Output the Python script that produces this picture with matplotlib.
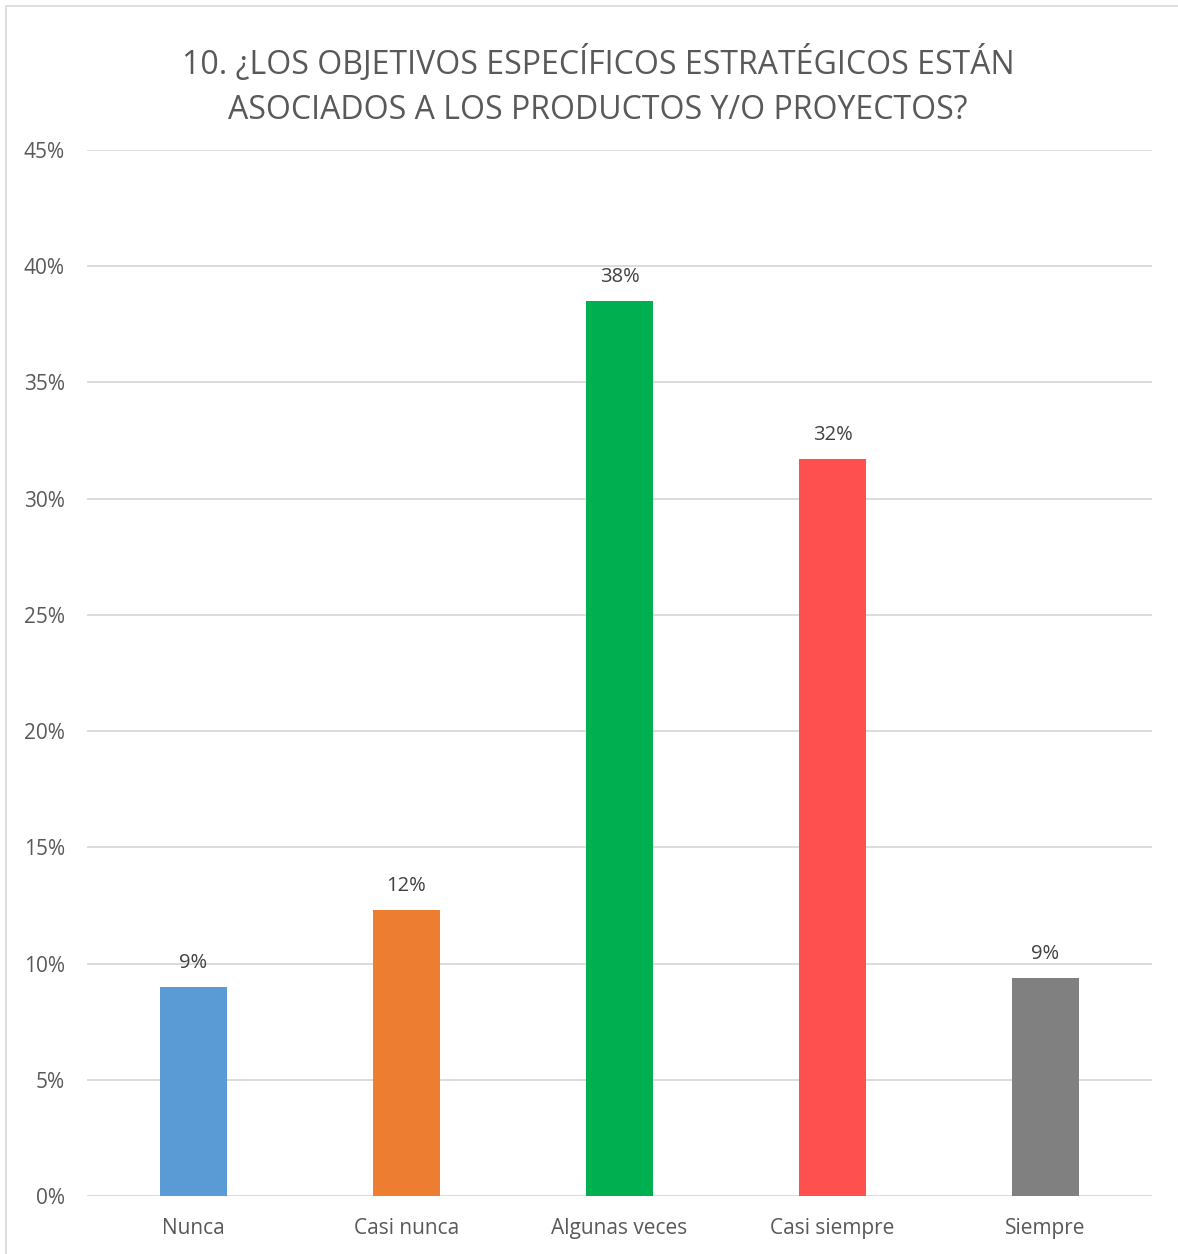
import matplotlib
matplotlib.use("Agg")
import matplotlib.pyplot as plt
from matplotlib.ticker import FuncFormatter, MultipleLocator
from matplotlib.patches import Rectangle

# Survey answers, share of respondents (%)
categories = ["Nunca", "Casi nunca", "Algunas veces", "Casi siempre", "Siempre"]
values = [9.0, 12.3, 38.5, 31.7, 9.4]
colors = ["#5B9BD5", "#ED7D31", "#00B050", "#FF5050", "#808080"]
title = "10. ¿LOS OBJETIVOS ESPECÍFICOS ESTRATÉGICOS ESTÁN\nASOCIADOS A LOS PRODUCTOS Y/O PROYECTOS?"

plt.rcParams["font.family"] = ["Open Sans", "DejaVu Sans"]
text_color = "#595959"

fig = plt.figure(figsize=(11.78, 12.54), dpi=100)
ax = fig.add_axes([87 / 1178, 1 - 1196 / 1254, (1152 - 87) / 1178, (1196 - 150) / 1254])

x = range(len(categories))
bars = ax.bar(x, values, width=0.315, color=colors, zorder=3)

for bar, v in zip(bars, values):
    ax.text(bar.get_x() + bar.get_width() / 2, v + 0.6, f"{v:.0f}%",
            ha="center", va="bottom", fontsize=14.5, color="#404040")

ax.set_xlim(-0.5, len(categories) - 0.5)
ax.set_ylim(0, 45)
ax.yaxis.set_major_locator(MultipleLocator(5))
ax.yaxis.set_major_formatter(FuncFormatter(lambda v, _: f"{v:.0f}%"))
ax.set_xticks(list(x))
ax.set_xticklabels(categories)
ax.tick_params(axis="both", length=0, labelsize=15, colors=text_color)
ax.tick_params(axis="y", pad=16)
ax.tick_params(axis="x", pad=16)
ax.grid(axis="y", color="#D9D9D9", linewidth=1.3, zorder=0)
for s in ax.spines.values():
    s.set_visible(False)

fig.text(598 / 1178, 1 - 86 / 1254, title, ha="center", va="center",
         fontsize=23, color=text_color, linespacing=1.45)

# chart border
fig.patches.append(Rectangle((6 / 1178, -0.01), 1.02, 1 - 6 / 1254 + 0.01,
                             transform=fig.transFigure, fill=False,
                             edgecolor="#D9D9D9", linewidth=1.2))

fig.savefig("out.png", dpi=100)
